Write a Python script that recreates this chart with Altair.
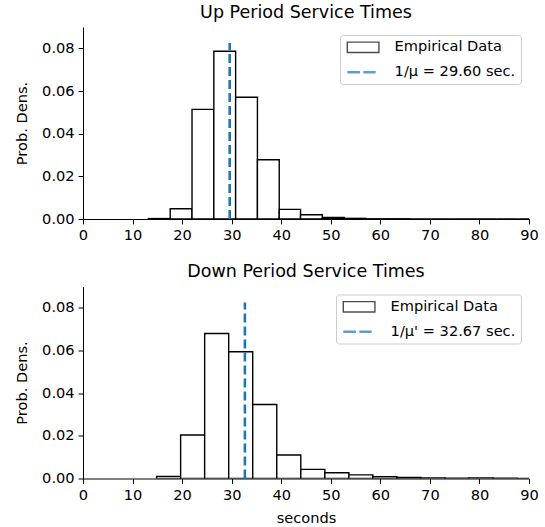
import altair as alt
import pandas as pd

# ---- data ----
up_edges = [13.2, 17.6, 22.0, 26.4, 30.8, 35.2, 39.6, 43.9, 48.3, 52.7, 57.1,
            61.5, 65.9, 70.3, 74.7, 79.1, 83.5, 87.9, 92.3]
up_density = [0.0002, 0.0048, 0.0514, 0.0786, 0.0571, 0.0278, 0.0045, 0.0020,
              0.0007, 0.0003, 0.0001, 0.0001, 0.0, 0.0, 0.0, 0.0, 0.0, 0.0]
up_mean = 29.60
up_label = "1/μ = 29.60 sec."

down_edges = [14.85, 19.7, 24.55, 29.4, 34.25, 39.1, 43.95, 48.8, 53.65, 58.5,
              63.35, 68.2, 73.05, 77.9, 82.75, 87.6, 92.45]
down_density = [0.0010, 0.0204, 0.0680, 0.0594, 0.0347, 0.0110, 0.0043, 0.0027,
                0.0017, 0.0009, 0.0005, 0.0003, 0.0001, 0.0002, 0.0001, 0.0]
down_mean = 32.67
down_label = "1/μ' = 32.67 sec."

line_top = 0.0825
x_ticks = [0, 10, 20, 30, 40, 50, 60, 70, 80, 90]
y_ticks = [0.0, 0.02, 0.04, 0.06, 0.08]
hist_label = "Empirical Data"

FONT = "DejaVu Sans"
BLUE = "#1f77b4"
LABEL_SIZE = 14.6
TITLE_SIZE = 17.5
# legend symbol shapes (unit = 5 px with symbolSize 100)
RECT_PATH = "M-1,-1.03H5.32V1.03H-1Z"
DASH_PATH = "M-1,0H1.54M2.2,0H4.68"


def panel(edges, dens, mean, label, title, xtitle):
    bins = pd.DataFrame({"start": edges[:-1], "end": edges[1:], "density": dens,
                         "base": [0.0] * len(dens)})
    xaxis_kw = dict(values=x_ticks, format="d", labelFlush=False, titlePadding=8)
    xaxis_kw["title"] = xtitle if xtitle else None
    xscale = alt.Scale(domain=[0, 90], nice=False, zero=False)
    yscale = alt.Scale(domain=[0, 0.09], nice=False)
    bars = alt.Chart(bins).mark_bar(fill="white", stroke="black", strokeWidth=1.4, clip=True).encode(
        x=alt.X("start:Q", scale=xscale, axis=alt.Axis(**xaxis_kw)),
        x2="end:Q",
        y=alt.Y("density:Q", scale=yscale,
                axis=alt.Axis(values=y_ticks, format=".2f", title="Prob. Dens.",
                              labelFlush=False, titlePadding=12)),
        y2="base:Q",
    )
    rule_df = pd.DataFrame({"mean": [mean], "y0": [0.0], "y1": [line_top]})
    rule = alt.Chart(rule_df).mark_rule(color=BLUE, strokeWidth=2.6, strokeDash=[9, 4]).encode(
        x="mean:Q", y="y0:Q", y2="y1:Q"
    )
    items = [hist_label, label]
    leg_df = pd.DataFrame({"item": items, "xx": [-100.0, -100.0], "yy": [0.0, 0.0]})
    legend = alt.Legend(
        title=None, orient="top-right", offset=8, padding=5,
        fillColor="white", strokeColor="#cccccc", cornerRadius=3,
        labelFont=FONT, labelFontSize=LABEL_SIZE, labelColor="black",
        symbolSize=100, symbolFillColor="white", rowPadding=8, labelOffset=35,
    )
    pts = alt.Chart(leg_df).mark_point(clip=True, size=100).encode(
        x="xx:Q", y="yy:Q",
        shape=alt.Shape("item:N", scale=alt.Scale(domain=items, range=[RECT_PATH, DASH_PATH]),
                        legend=legend),
        stroke=alt.Stroke("item:N", scale=alt.Scale(domain=items, range=["black", BLUE]),
                          legend=legend),
        strokeWidth=alt.StrokeWidth("item:N", scale=alt.Scale(domain=items, range=[1.4, 2.6]),
                                    legend=legend),
    )
    return alt.layer(bars, rule, pts).properties(
        width=446, height=192,
        title=alt.TitleParams(title, fontSize=TITLE_SIZE, fontWeight="normal", font=FONT,
                              color="black", anchor="middle", offset=6),
    )


top = panel(up_edges, up_density, up_mean, up_label, "Up Period Service Times", None)
bottom = panel(down_edges, down_density, down_mean, down_label, "Down Period Service Times", "seconds")

chart = alt.vconcat(top, bottom, spacing=19.5).resolve_scale(
    shape="independent", stroke="independent", strokeWidth="independent"
).resolve_legend(
    shape="independent", stroke="independent", strokeWidth="independent"
).properties(
    padding={"left": 14, "top": 3, "right": 5, "bottom": 5}
).configure_view(stroke="transparent").configure_axis(
    grid=False, domainColor="black", tickColor="black", labelColor="black",
    titleColor="black", tickSize=4.9, labelPadding=4, labelFont=FONT,
    titleFont=FONT, labelFontSize=LABEL_SIZE, titleFontSize=LABEL_SIZE, titleFontWeight="normal",
    domainWidth=1, tickWidth=1,
).configure_legend(
    labelFont=FONT, labelFontSize=LABEL_SIZE, labelColor="black",
)

chart.save("out.html", embed_options={"renderer": "svg", "actions": False})
